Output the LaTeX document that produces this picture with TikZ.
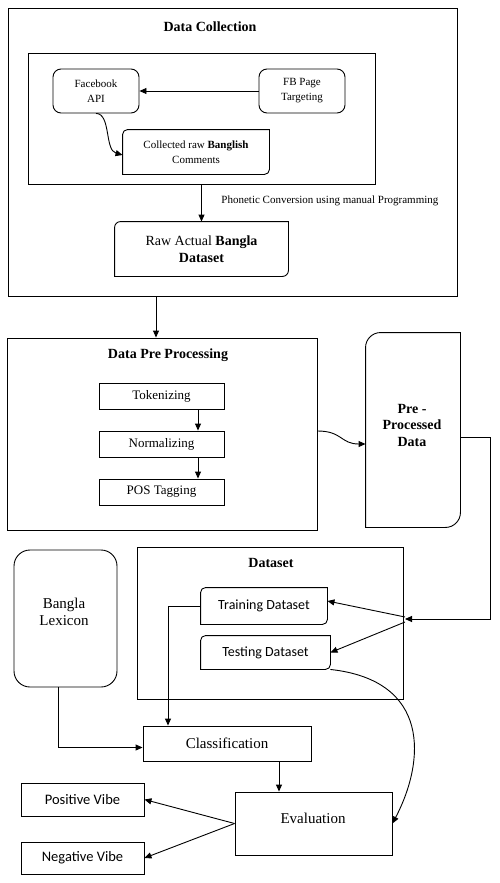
\documentclass[tikz,border=0pt]{standalone}
\usepackage{fontspec}
\setmainfont{Liberation Serif}
\newfontfamily\calibri{Carlito}
\usetikzlibrary{arrows.meta}
\newcommand{\fsz}[2]{\fontsize{#1}{#2}\selectfont}
% box with rounded top left and bottom right corners
\newcommand{\cutbox}[2]{\draw[rounded corners=#2, line cap=rect] (#1.south west) -- (#1.north west) -- (#1.north east) (#1.north east) -- (#1.south east) -- (#1.south west);}
\begin{document}
\begin{tikzpicture}[x=1pt, y=-1pt, line width=0.9pt,
        every node/.style={inner sep=0pt, align=center},
        frame/.style={draw, rectangle},
        title/.style={font=\fsz{14}{16}\bfseries},
        arr/.style={-{Triangle[length=7pt, width=6pt]}}]
    \useasboundingbox (0,0) rectangle (499,883);
    % data collection
    \node[frame, minimum width=449, minimum height=288] (collect) at (232.5,152) {};
    \node[title] (collecttitle) at (210,27) {Data Collection};
    \node[frame, minimum width=347, minimum height=131] (fbarea) at (201.5,118.5) {};
    \node[frame, rounded corners=8, minimum width=86, minimum height=44, font=\fsz{11}{15}] (fbapi) at (96,91) {Facebook\\API};
    \node[frame, rounded corners=8, minimum width=86, minimum height=44, font=\fsz{11}{15}] (fbpage) at (302,91) {FB Page\\Targeting};
    \node[minimum width=146, minimum height=44, font=\fsz{11}{15}] (rawcomments) at (196,152) {Collected raw \textbf{Banglish}\\Comments};
    \cutbox{rawcomments}{5}
    \node[minimum width=173, minimum height=54, font=\fsz{14}{17}] (rawbangla) at (201.5,249) {Raw Actual \textbf{Bangla}\\\textbf{Dataset}};
    \cutbox{rawbangla}{6}
    \node[anchor=west, font=\fsz{11}{13}] (phonetic) at (221,201) {Phonetic Conversion using manual Programming};
    \draw[arr] (fbpage) -- (fbapi);
    \draw[arr] (fbapi.south) .. controls +(15,0) and +(-18,-5) .. ([yshift=-3]rawcomments.west);
    \draw[arr] (fbarea.south) -- (rawbangla.north);
    % pre processing
    \node[frame, minimum width=310, minimum height=192] (prep) at (162,434) {};
    \node[title] (preptitle) at (168,355) {Data Pre Processing};
    \foreach \y/\name/\txt in {396/tok/Tokenizing, 444/norm/Normalizing, 492/postag/POS Tagging}
        \node[frame, minimum width=125, minimum height=26, font=\fsz{13}{15}] (\name) at (161.5,\y) {\txt};
    \foreach \a/\b in {tok/norm, norm/postag}
        \draw[arr] ([xshift=36.5]\a.south) -- ([xshift=36.5]\b.north);
    \draw[arr] ([xshift=-76.5]collect.south) -- ([xshift=-6]prep.north);
    \node[minimum width=94, minimum height=194] (ppd) at (413,430) {};
    \cutbox{ppd}{15}
    \node[font=\fsz{14}{16.5}\bfseries] (ppdtext) at (412,425) {Pre -\\Processed\\Data};
    \draw[arr] ([yshift=3]prep.east) .. controls +(25,0) and +(-25,0) .. ([yshift=-14]ppd.west);
    % dataset
    \node[frame, minimum width=266, minimum height=152] (dset) at (270,623) {};
    \node[title] (dsettitle) at (271,563) {Dataset};
    \node[minimum width=126, minimum height=36, font=\calibri\fsz{14}{16}] (train) at (264,606) {Training Dataset};
    \cutbox{train}{5}
    \node[minimum width=129, minimum height=33, font=\calibri\fsz{14}{16}] (test) at (265.5,652.5) {Testing Dataset};
    \cutbox{test}{5}
    \coordinate (split) at (405,619);
    \draw[arr] ([yshift=-7]ppd.east) -- ++(30,0) |- (split);
    \draw[arr] ([yshift=2]split) -- ([yshift=5]train.east);
    \draw[arr] ([yshift=-3]split) -- (test.east);
    % classification
    \node[frame, rounded corners=16, minimum width=103, minimum height=137] (lex) at (65.5,618.5) {};
    \node[font=\fsz{15}{17}] (lextext) at (64,611.5) {Bangla\\Lexicon};
    \node[frame, minimum width=168, minimum height=35, font=\fsz{15}{17}] (cls) at (227,743.5) {Classification};
    \node[frame, minimum width=157, minimum height=63] (eval) at (313.5,823.5) {};
    \node[font=\fsz{15}{17}] (evaltext) at (313,818) {Evaluation};
    \node[frame, minimum width=123, minimum height=33, font=\calibri\fsz{14.5}{16}] (posvibe) at (82.5,799.5) {Positive Vibe};
    \node[frame, minimum width=123, minimum height=32, font=\calibri\fsz{14.5}{16}] (negvibe) at (82.5,858) {Negative Vibe};
    \draw[arr] (train.west) -| ([xshift=-59]cls.north);
    \draw[arr] ([xshift=-7.5]lex.south) |- ([yshift=-4]cls.west);
    \draw[arr] ([xshift=52]cls.south) -- ([xshift=-34.5]eval.north);
    \draw[arr] (test.south east) .. controls +(100,11) and +(33,-63) .. (eval.east);
    \draw[arr] (eval.west) -- (posvibe.east);
    \draw[arr] (eval.west) -- (negvibe.east);
\end{tikzpicture}
\end{document}
